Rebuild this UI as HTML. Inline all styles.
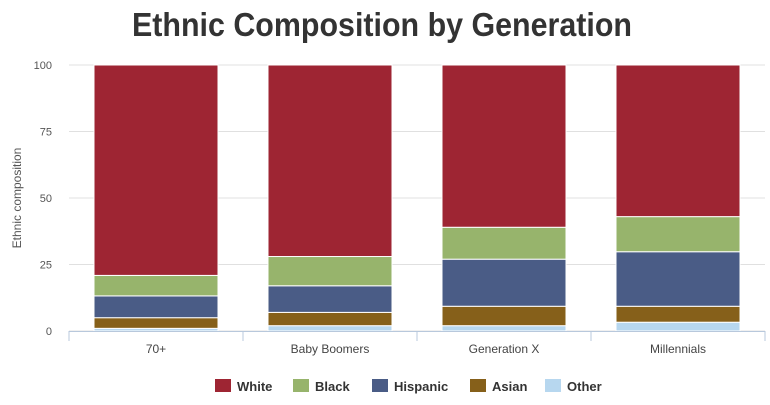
<!DOCTYPE html>
<html><head><meta charset="utf-8"><style>
body{margin:0;background:#fff;font-family:"Liberation Sans",sans-serif}
</style></head><body>
<svg id="c" width="770" height="400" xmlns="http://www.w3.org/2000/svg">
<text x="382" y="36" text-anchor="middle" font-size="33" font-weight="bold" fill="#333" textLength="500" lengthAdjust="spacingAndGlyphs">Ethnic Composition by Generation</text>
<text transform="translate(21,198) rotate(-90)" text-anchor="middle" font-size="12" fill="#555">Ethnic composition</text>
<g id="g"></g>
</svg>
<script>
const categories=["70+","Baby Boomers","Generation X","Millennials"];
const seriesNames=["Other","Asian","Hispanic","Black","White"];
const other=[1,2,2,3.3];
const asian=[4,5,7.3,6];
const hispanic=[8.2,10,17.7,20.5];
const black=[7.7,11,12,13.2];
const white=[79.1,72,61,57];
const yTicks=[0,25,50,75,100];
const colors=["#b7d7ef","#86601a","#4a5c86","#97b46c","#9e2533"];
const series=[other,asian,hispanic,black,white];
const X0=69,X1=765,Y0=331,Y1=65;
const y=v=>Y0-(v/100)*(Y0-Y1);
const cw=(X1-X0)/categories.length;
const xc=i=>X0+cw*(i+0.5);
const g=document.getElementById('g');
const NS="http://www.w3.org/2000/svg";
function mk(t,a){const e=document.createElementNS(NS,t);for(const k in a)e.setAttribute(k,a[k]);g.appendChild(e);return e;}
yTicks.forEach(t=>{
 const l=mk('line',{x1:X0,x2:X1,y1:y(t),y2:y(t),stroke:'#e0e0e0'});
 
 
 const tx=mk('text',{x:52,y:y(t)+4,'text-anchor':'end','font-size':11,fill:'#555'});
 tx.textContent=t;
 
 
});
categories.forEach((c,i)=>{
 let acc=0;
 series.forEach((s,j)=>{
  const r=mk('rect',{x:xc(i)-62,width:124,y:y(acc+s[i]),height:y(acc)-y(acc+s[i]),fill:colors[j],stroke:'#fff','stroke-width':1});
  
  
  acc+=s[i];
 });
 const tx=mk('text',{x:xc(i),y:353,'text-anchor':'middle','font-size':12,fill:'#444'});
 tx.textContent=c;
 
 
});
const ax=mk('line',{x1:X0,x2:X1,y1:Y0+0.5,y2:Y0+0.5,stroke:'#b8c8dc'});


for(let i=0;i<=categories.length;i++){
 const t=mk('line',{x1:X0+cw*i,x2:X0+cw*i,y1:Y0,y2:Y0+10,stroke:'#b8c8dc'});
 
 
}
const legendOrder=[4,3,2,1,0];
const lx=[215,293,372,470,545];
legendOrder.forEach((j,k)=>{
 const r=mk('rect',{x:lx[k],y:379,width:16,height:13,fill:colors[j]});
 
 
 const t=mk('text',{x:lx[k]+22,y:391,'font-size':13,'font-weight':'bold',fill:'#333'});
 t.textContent=seriesNames[j];
 
 
});
</script>
</body></html>
